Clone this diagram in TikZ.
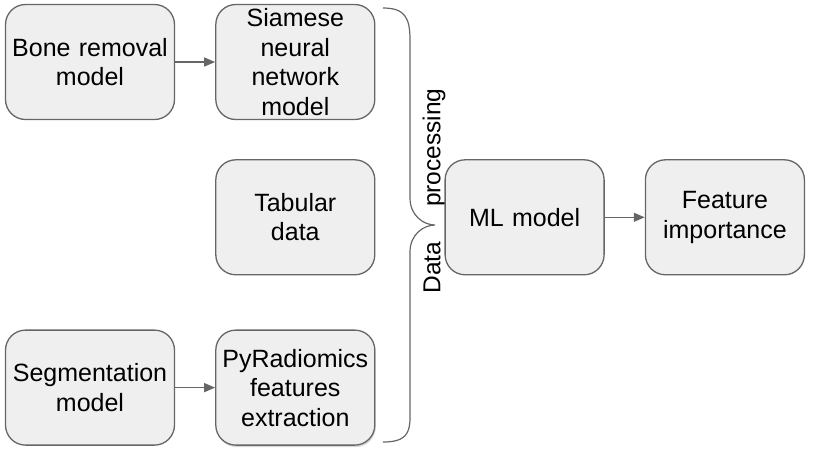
\documentclass[tikz,border=0pt]{standalone}
\usepackage{fontspec}
\setmainfont{Liberation Sans}
\usetikzlibrary{positioning,arrows.meta,shadows}
\definecolor{boxfill}{HTML}{EFEFEF}
\definecolor{boxline}{HTML}{666666}
\tikzstyle{block} = [rectangle, draw=boxline, fill=boxfill, line width=1.3pt,
    text width=154pt, align=center, rounded corners=20pt, inner sep=1pt,
    minimum width=159pt, minimum height=115pt, font=\fontsize{25}{29.5}\selectfont]
\tikzstyle{wideblock} = [block, minimum width=169pt, text width=166pt]
\tikzstyle{line} = [draw, color=boxline, line width=1.3pt, -{Triangle[length=11pt, width=9pt]}]
\tikzstyle{brace} = [draw, color=boxline, line width=1.2pt]

\begin{document}
\begin{tikzpicture}[x=1pt, y=-1pt, node distance=39pt and 40pt]
	\useasboundingbox (0,0) rectangle (813,456);

	\node [wideblock] (bone) at (90,62) {Bone removal\\model};
	\node [block, right=of bone] (siamese) {Siamese\\neural\\network\\model};

	\node [block, below=of siamese] (tabular) {Tabular\\data};

	\node [block, below=54pt of tabular, drop shadow={shadow xshift=1pt, shadow yshift=-2pt, opacity=0.3}] (pyrad) {PyRadiomics\\features\\extraction};
	\node [wideblock, left=of pyrad] (segment) {Segmentation\\model};

	\path [line] (bone) -- (siamese);
	\path [line] (segment) -- (pyrad);

	% brace around the inputs
	\draw [brace] (383,8) .. controls (405,8) and (410,18) .. (410,40) -- (410,198)
		.. controls (410,216) and (424,225) .. (435,225)
		.. controls (424,225) and (410,234) .. (410,252) -- (410,418)
		.. controls (410,434) and (405,442) .. (383,442);
	\node [rotate=90, font=\fontsize{24.5}{29}\selectfont] (label) at (434,191) {Data\hspace{35pt}processing};

	\node [block, right=69pt of tabular] (ml) {ML model};
	\node [block, right=40pt of ml] (importance) {Feature\\importance};

	\path [line] (ml) -- (importance);
\end{tikzpicture}
\end{document}
